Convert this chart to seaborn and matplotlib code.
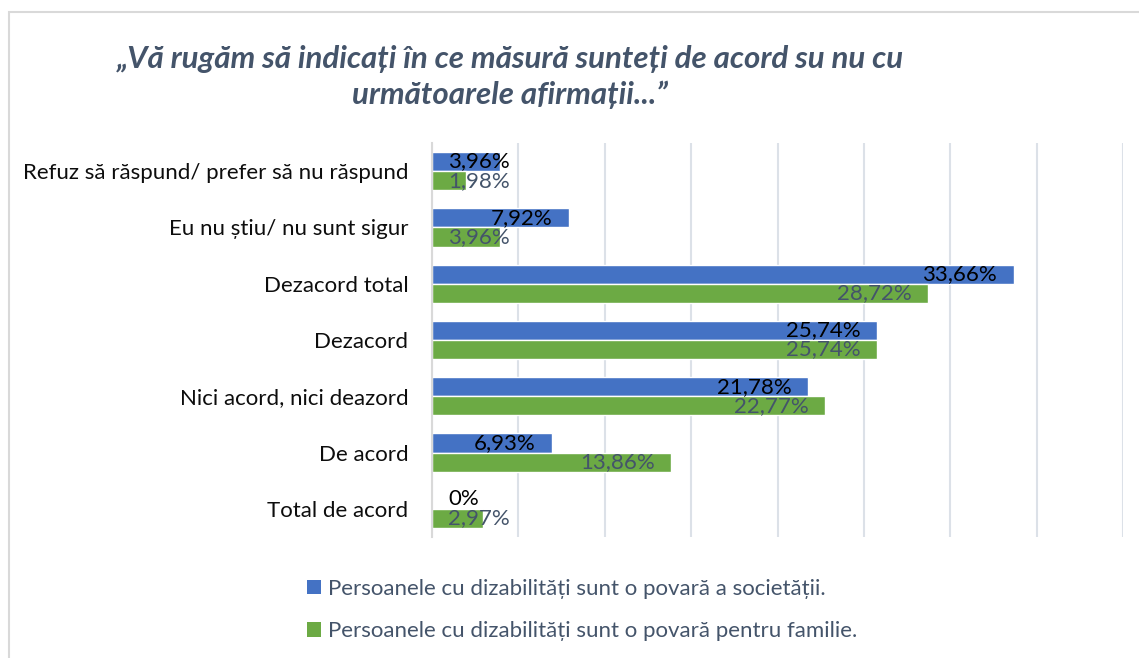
import pandas as pd
import seaborn as sns
import matplotlib
import matplotlib.pyplot as plt
from matplotlib.patches import Patch, Rectangle

matplotlib.use("Agg")

# data
categories = [
    "Refuz să răspund/ prefer să nu răspund",
    "Eu nu știu/ nu sunt sigur",
    "Dezacord total",
    "Dezacord",
    "Nici acord, nici deazord",
    "De acord",
    "Total de acord",
]
series_names = [
    "Persoanele cu dizabilități sunt o povară a societății.",
    "Persoanele cu dizabilități sunt o povară pentru familie.",
]
societate = [3.96, 7.92, 33.66, 25.74, 21.78, 6.93, 0]
familie = [1.98, 3.96, 28.72, 25.74, 22.77, 13.86, 2.97]

title = "„Vă rugăm să indicați în ce măsură sunteți de acord su nu cu\nurmătoarele afirmații...”"
colors = ["#4472C4", "#6CAA44"]
label_colors = ["#000000", "#44546A"]

df = pd.DataFrame({
    "categorie": categories * 2,
    "serie": [series_names[0]] * len(categories) + [series_names[1]] * len(categories),
    "valoare": societate + familie,
})

sns.set_theme(style="white")
plt.rcParams["font.family"] = ["Lato", "DejaVu Sans"]

fig = plt.figure(figsize=(11.39, 6.58), dpi=100)
ax = fig.add_axes([0.3793, 0.1839, 0.6067, 0.5988])

sns.barplot(data=df, y="categorie", x="valoare", hue="serie", order=categories,
            hue_order=series_names, palette=colors, orient="h", width=0.68,
            saturation=1, legend=False, ax=ax)

ax.set_xlim(0, 40)
ax.set_ylim(6.5, -0.5)
ax.set_xticks(range(0, 41, 5))
ax.set_xticklabels([])
ax.xaxis.grid(True, color="#DCE1E8", linewidth=1.5)
ax.set_axisbelow(True)
ax.set_xlabel("")
ax.set_ylabel("")
for side in ["top", "right", "bottom"]:
    ax.spines[side].set_visible(False)
ax.spines["left"].set_color("#D9D9D9")
ax.spines["left"].set_linewidth(1.5)
ax.tick_params(axis="both", length=0)
ax.tick_params(axis="y", pad=17, labelsize=16, labelcolor="#0D0D0D")

# value labels, Excel-like "inside end"
for container, values, lc in zip(ax.containers, [societate, familie], label_colors):
    for bar, v in zip(container, values):
        yc = bar.get_y() + bar.get_height() / 2
        txt = "0%" if v == 0 else f"{v:.2f}".replace(".", ",") + "%"
        if v < 6:
            ax.text(0.95, yc, txt, ha="left", va="center", fontsize=16, color=lc)
        else:
            ax.text(v - 0.95, yc, txt, ha="right", va="center", fontsize=16, color=lc)

fig.text(0.448, 1 - 77 / 658, title, ha="center", va="center", fontsize=22.5,
         fontweight="bold", fontstyle="italic", color="#44546A", linespacing=1.3)

handles = [Patch(facecolor=c, edgecolor="none") for c in colors]
fig.legend(handles, series_names, loc="upper left", bbox_to_anchor=(307 / 1139, 1 - 579 / 658),
           frameon=False, fontsize=16, handlelength=0.63, handleheight=0.63,
           handletextpad=0.33, labelspacing=1.0, borderpad=0, borderaxespad=0,
           labelcolor="#44546A")

# chart frame
fig.patches.append(Rectangle((9 / 1139, -0.05), 1.1, 1 - 12 / 658 + 0.05,
                             transform=fig.transFigure, fill=False,
                             edgecolor="#D9D9D9", linewidth=1.5))

fig.savefig("out.png", dpi=100)
